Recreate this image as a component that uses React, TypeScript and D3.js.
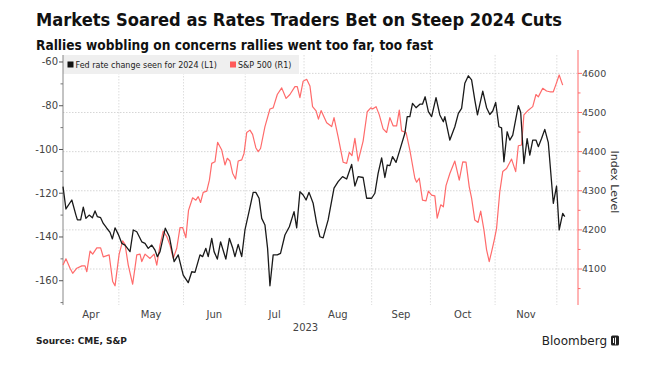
import React from 'react';
import * as d3 from 'd3';

// ---- Data (x = trading-day index from Apr 3, 2023) ----
const monthLabels = ['Apr', 'May', 'Jun', 'Jul', 'Aug', 'Sep', 'Oct', 'Nov'];
const monthStartDay = [0, 19, 41, 62, 82, 105, 125, 147, 168];
const yearLabel = '2023';
const leftMajorTicks = [-60, -80, -100, -120, -140, -160];
const leftMinorTicks = [-70, -90, -110, -130, -150, -170];
const rightMajorTicks = [4100, 4200, 4300, 4400, 4500, 4600];
const rightMinorTicks = [4050, 4150, 4250, 4350, 4450, 4550];

const fedDay = [
  0, 1.0, 3.0, 4.4, 4.9, 6.0, 6.9, 7.8, 8.9, 10.0, 10.9, 11.7, 12.8, 13.7, 14.9, 16.0, 16.8, 17.7, 18.8,
  20.0, 21.1, 22.8, 23.9, 25.1, 26.8, 27.9, 29.0, 30.2, 31.3, 32.1, 33.0, 34.8, 36.2, 37.8, 39.2, 40.9,
  42.6, 43.8, 44.9, 46.6, 47.5, 48.6, 49.4, 50.6, 51.4, 52.5, 53.6, 55.4, 56.6, 57.7, 58.5, 59.6, 60.8,
  61.9, 63.4, 64.7, 65.6, 66.7, 67.6, 68.7, 69.6, 70.4, 71.5, 72.9, 74.0, 75.5, 77.0, 78.6, 79.5, 80.6,
  81.7, 82.7, 83.7, 85.1, 86.3, 87.4, 88.5, 90.2, 92.2, 93.6, 95.1, 96.5, 98.2, 99.3, 100.4, 102.1,
  103.3, 105.0, 106.1, 107.2, 108.4, 109.5, 110.3, 111.2, 112.1, 113.3, 114.6, 116.3, 117.1, 118.0,
  118.9, 120.1, 121.4, 122.3, 123.2, 124.3, 125.4, 126.9, 128.2, 129.4, 129.9, 131.6, 133.3, 134.5,
  135.6, 136.7, 137.9, 139.0, 140.1, 141.0, 142.8, 144.1, 145.2, 146.2, 147.2, 148.3, 149.2, 150.0,
  151.1, 152.0, 153.0, 154.9, 155.7, 156.8, 157.9, 158.8, 159.8, 160.9, 161.7, 162.8, 163.9, 165.1,
  166.8, 167.9, 168.8, 170.0, 170.7,
];
const fedValue = [
  -117.0, -127.2, -123.1, -130, -132.2, -132.2, -126.4, -131.5, -130, -131.2, -128.1, -130.7, -131.2,
  -133.8, -136, -137.9, -140.9, -135.8, -138.8, -142.9, -143.7, -146.7, -136.8, -137.6, -142.2, -142.9,
  -145.2, -143.7, -146, -149, -146.7, -136, -139.9, -151.3, -148.2, -157.4, -160.9, -155.9, -156.2,
  -148.2, -149, -145.2, -149, -140.6, -146.7, -150.1, -142.2, -150.1, -140.6, -144.9, -149, -143.4,
  -149, -136.8, -127.7, -119.6, -119.6, -122.3, -131.5, -134.5, -145.2, -162.3, -148.2, -148.2, -147.5,
  -139.1, -135.3, -128.4, -135.8, -119.3, -120.8, -123.1, -119.6, -124.6, -133.8, -139.9, -140.4,
  -132.2, -117.7, -114.7, -112.4, -113.5, -106.8, -116.7, -112.4, -112.8, -122.3, -122.3, -120, -110.9,
  -103.8, -112.8, -107.1, -107.4, -103.3, -105.9, -100.2, -92.6, -85, -85, -78.9, -80.9, -79.3, -79.3,
  -75.9, -82.7, -85, -76.3, -84.2, -87.3, -85, -95.7, -89.6, -83.5, -81.2, -69.7, -66.3, -68.2, -77.4,
  -84.2, -73.3, -80.9, -84, -82.4, -78.5, -89.6, -90.1, -105.6, -91.9, -95.7, -93.4, -80, -83, -106.4,
  -95, -102.6, -95.7, -95.7, -98.7, -95, -90.8, -96.9, -124.6, -116.7, -136.8, -129.2, -130.7,
];

const spxDay = [
  0, 1.0, 2.4, 3.3, 4.7, 6.4, 7.5, 8.1, 9.2, 10.1, 11.5, 12.8, 13.7, 15.7, 16.9, 17.7, 19.1, 20.3, 21.1,
  22.2, 23.7, 25.1, 26.2, 26.8, 27.9, 29.6, 31.0, 31.9, 33.0, 34.1, 35.3, 36.4, 37.5, 38.7, 39.8, 40.7,
  41.8, 42.7, 44.1, 45.2, 46.0, 46.8, 47.7, 48.9, 49.8, 50.6, 51.7, 52.6, 54.0, 55.1, 55.9, 56.8, 57.7,
  58.7, 59.6, 60.8, 61.6, 62.5, 63.6, 64.5, 65.6, 66.4, 67.2, 68.7, 70.4, 71.5, 72.9, 74.4, 75.9, 77.2,
  78.9, 79.7, 80.6, 81.7, 82.9, 84.0, 84.9, 86.1, 86.9, 87.8, 89.7, 91.4, 92.2, 93.6, 95.3, 96.5, 97.4,
  98.3, 99.3, 100.4, 102.1, 103.5, 104.7, 105.3, 106.5, 107.6, 108.9, 110.1, 111.2, 112.3, 113.5,
  114.4, 115.2, 116.7, 118.0, 119.7, 120.3, 121.2, 122.3, 123.5, 124.3, 125.4, 126.5, 127.3, 128.5,
  129.4, 130.3, 131.6, 133.3, 134.8, 136.0, 137.1, 138.2, 139.0, 140.1, 141.2, 142.1, 143.2, 144.1,
  145.0, 145.8, 146.7, 147.5, 148.6, 149.6, 150.9, 152.6, 154.0, 154.9, 156.0, 156.8, 158.3, 159.8,
  160.9, 161.7, 163.2, 164.5, 165.6, 166.8, 167.7, 168.8, 170.0,
];
const spxValue = [
  4110, 4126, 4102, 4089, 4102, 4108, 4108, 4093, 4146, 4138, 4154, 4154, 4131, 4136, 4068, 4057, 4138,
  4172, 4163, 4110, 4061, 4136, 4138, 4119, 4138, 4127, 4138, 4110, 4161, 4197, 4183, 4161, 4127, 4153,
  4206, 4206, 4180, 4250, 4282, 4276, 4285, 4270, 4296, 4299, 4327, 4370, 4374, 4424, 4404, 4366, 4383,
  4376, 4345, 4330, 4376, 4379, 4396, 4449, 4455, 4444, 4410, 4400, 4408, 4464, 4509, 4512, 4546, 4563,
  4536, 4546, 4566, 4566, 4538, 4580, 4585, 4568, 4515, 4504, 4483, 4505, 4474, 4464, 4487, 4438, 4373,
  4370, 4398, 4390, 4434, 4376, 4427, 4502, 4512, 4509, 4515, 4494, 4458, 4449, 4487, 4466, 4466, 4506,
  4453, 4449, 4404, 4332, 4322, 4332, 4276, 4274, 4299, 4289, 4287, 4230, 4264, 4259, 4313, 4344, 4376,
  4327, 4374, 4373, 4310, 4281, 4225, 4219, 4248, 4200, 4149, 4119, 4144, 4174, 4204, 4298, 4349, 4357,
  4381, 4349, 4415, 4417, 4494, 4506, 4515, 4546, 4540, 4562, 4555, 4553, 4553, 4572, 4596, 4570,
];

const W = 645;
const H = 384;
const plot = { left: 63, right: 578, top: 55, bottom: 305 };
const axisFont = "'DejaVu Sans', Verdana, sans-serif";
const RED = '#ff6b6b';

export default function App() {
  const x = d3.scaleLinear().domain([0, 175.2]).range([plot.left, plot.right]);
  const yL = d3.scaleLinear().domain([-171.1, -56.8]).range([plot.bottom, plot.top]);
  const yR = d3.scaleLinear().domain([4008, 4647]).range([plot.bottom, plot.top]);

  const fedPts: [number, number][] = fedDay.map((d, i) => [d, fedValue[i]]);
  const spxPts: [number, number][] = spxDay.map((d, i) => [d, spxValue[i]]);
  const fedLine = d3.line<[number, number]>().x((p) => x(p[0])).y((p) => yL(p[1]));
  const spxLine = d3.line<[number, number]>().x((p) => x(p[0])).y((p) => yR(p[1]));

  return (
    <svg
      width={W}
      height={H}
      style={{ position: 'fixed', left: 0, top: 0, background: '#fff' }}
      fontFamily={axisFont}
    >
      <rect x={0} y={0} width={W} height={H} fill="#fff" />
      {/* Title */}
      <text x={36} y={26} fontSize={18} fontWeight="bold" fill="#111" textLength={526} lengthAdjust="spacingAndGlyphs">
        Markets Soared as Rates Traders Bet on Steep 2024 Cuts
      </text>
      <text x={36} y={50} fontSize={13.5} fontWeight="bold" fill="#111" textLength={397} lengthAdjust="spacingAndGlyphs">
        Rallies wobbling on concerns rallies went too far, too fast
      </text>

      {/* Horizontal gridlines (right axis) */}
      {rightMajorTicks.map((t) => (
        <line key={'hg' + t} x1={plot.left} x2={plot.right} y1={yR(t)} y2={yR(t)} stroke="#cccccc" strokeWidth={0.8} strokeDasharray="1.5,1.5" />
      ))}
      {/* Vertical gridlines at month starts */}
      {monthStartDay.slice(1).map((d) => (
        <line key={'vg' + d} x1={x(d)} x2={x(d)} y1={plot.top} y2={plot.bottom} stroke="#d4d4d4" strokeWidth={0.8} strokeDasharray="1.5,1.5" />
      ))}

      {/* Legend */}
      <rect x={63} y={55} width={236} height={19} fill="#efefef" />
      <rect x={67.5} y={61.5} width={6} height={6} fill="#111" />
      <text x={75.5} y={68} fontSize={8} fill="#222">Fed rate change seen for 2024 (L1)</text>
      <rect x={230} y={61.5} width={6} height={6} fill="#ff5a5a" />
      <text x={238} y={68} fontSize={8} fill="#222">S&amp;P 500  (R1)</text>

      {/* Left axis */}
      <line x1={plot.left} x2={plot.left} y1={plot.top} y2={plot.bottom} stroke="#888" strokeWidth={1} />
      {leftMajorTicks.map((t) => (
        <g key={'lt' + t}>
          <line x1={plot.left - 4} x2={plot.left} y1={yL(t)} y2={yL(t)} stroke="#555" strokeWidth={1} />
          <text x={plot.left - 5} y={yL(t)} dy="0.35em" textAnchor="end" fontSize={10} fill="#444">
            {t}
          </text>
        </g>
      ))}
      {leftMinorTicks.map((t) => (
        <line key={'lm' + t} x1={plot.left - 2.5} x2={plot.left} y1={yL(t)} y2={yL(t)} stroke="#777" strokeWidth={1} />
      ))}

      {/* Right axis */}
      <line x1={plot.right} x2={plot.right} y1={plot.top - 5} y2={plot.bottom} stroke={RED} strokeWidth={1} />
      {rightMajorTicks.map((t) => (
        <g key={'rt' + t}>
          <line x1={plot.right} x2={plot.right + 4} y1={yR(t)} y2={yR(t)} stroke={RED} strokeWidth={1} />
          <text x={plot.right + 4} y={yR(t)} dy="0.35em" textAnchor="start" fontSize={9.5} fill="#444">
            {t}
          </text>
        </g>
      ))}
      {rightMinorTicks.map((t) => (
        <line key={'rm' + t} x1={plot.right} x2={plot.right + 2.5} y1={yR(t)} y2={yR(t)} stroke={RED} strokeWidth={1} />
      ))}
      <text transform="translate(610.5,182) rotate(90)" textAnchor="middle" fontSize={11} fill="#333">
        Index Level
      </text>

      {/* X axis labels */}
      {monthLabels.map((m, i) => (
        <text key={m} x={x((monthStartDay[i] + monthStartDay[i + 1]) / 2)} y={318} textAnchor="middle" fontSize={10} fill="#444">
          {m}
        </text>
      ))}
      <text x={x(82.5)} y={331} textAnchor="middle" fontSize={10} fill="#444">
        {yearLabel}
      </text>

      {/* Lines */}
      <path d={spxLine(spxPts) || ''} fill="none" stroke={RED} strokeWidth={1.2} strokeLinejoin="round" />
      <path d={fedLine(fedPts) || ''} fill="none" stroke="#1a1a1a" strokeWidth={1.3} strokeLinejoin="round" />

      {/* Footer */}
      <text x={36} y={344} fontSize={9} fontWeight="bold" fill="#222">
        Source: CME, S&amp;P
      </text>
      <text x={607} y={345} textAnchor="end" fontSize={12} fill="#222">
        Bloomberg
      </text>
      <rect x={611} y={335.5} width={8} height={10} rx={1.5} fill="#222" />
      <line x1={613.5} x2={613.5} y1={338} y2={343} stroke="#fff" strokeWidth={1} />
      <line x1={615.5} x2={615.5} y1={337.5} y2={344.5} stroke="#fff" strokeWidth={1} />
    </svg>
  );
}
